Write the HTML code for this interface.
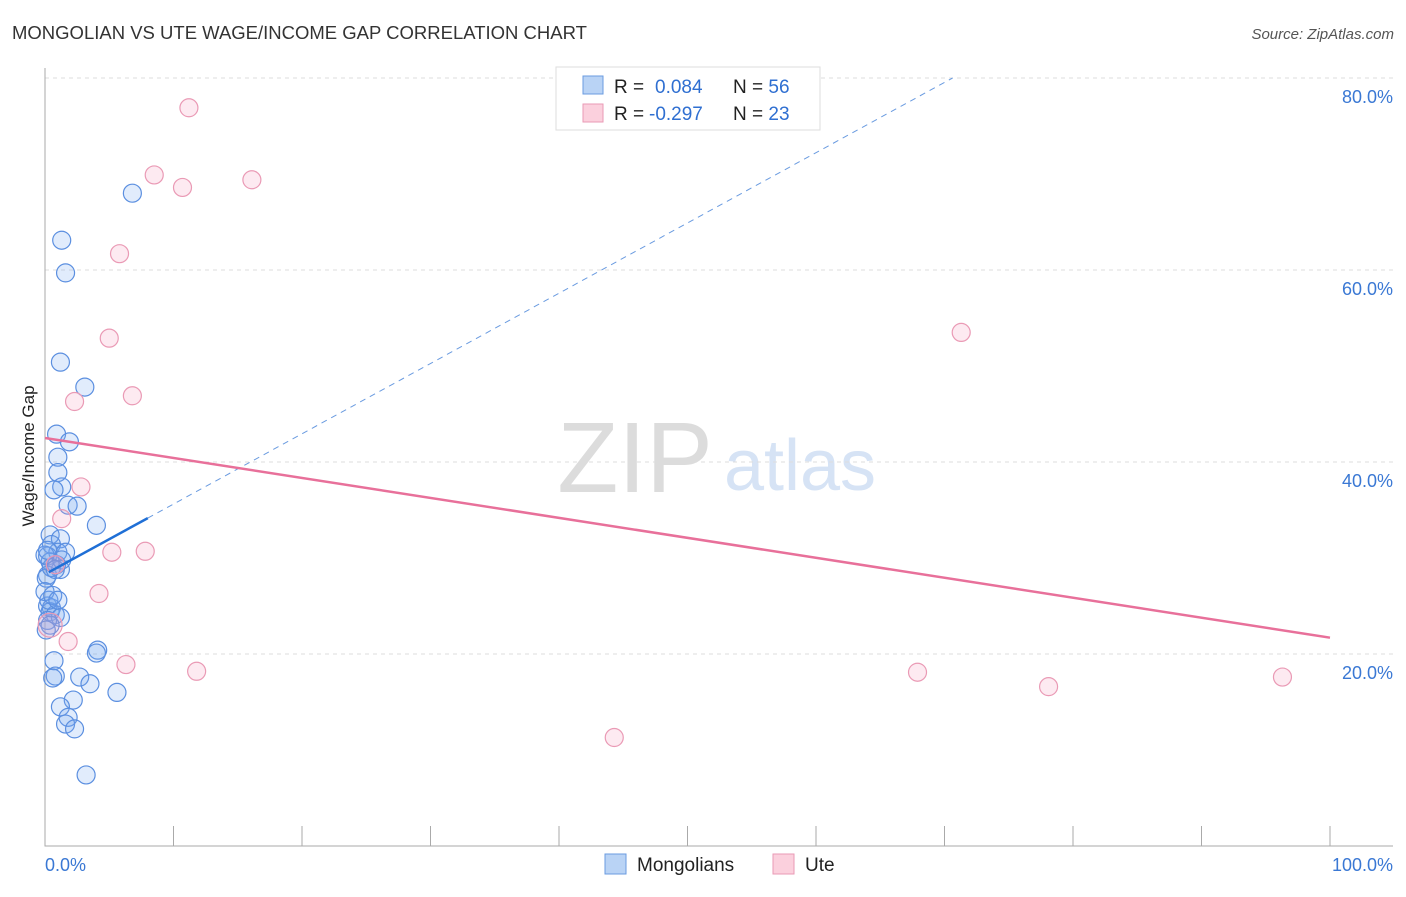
<!DOCTYPE html>
<html><head><meta charset="utf-8"><style>
body{margin:0;background:#fff;font-family:"Liberation Sans",sans-serif}
svg text{font-family:"Liberation Sans",sans-serif}
</style></head><body>
<svg width="1406" height="892" id="c">
<text x="12" y="39" font-size="18.5" fill="#333">MONGOLIAN VS UTE WAGE/INCOME GAP CORRELATION CHART</text>
<text x="1394" y="39" font-size="15" fill="#555" font-style="italic" text-anchor="end">Source: ZipAtlas.com</text>
<text x="34" y="456" font-size="17" fill="#222" transform="rotate(-90 34 456)" text-anchor="middle">Wage/Income Gap</text>
<text x="635" y="492" font-size="100" fill="#dcdcdc" font-family="Liberation Serif" text-anchor="middle">ZIP</text>
<text x="800" y="490" font-size="72" fill="#d6e3f5" text-anchor="middle">atlas</text>
<g id="grid"></g><g id="pts"></g><g id="lines"></g>
<g>
<rect x="556" y="67" width="264" height="63" fill="#fff" stroke="#ddd"/>
<rect x="583" y="76" width="20" height="18" fill="#b9d3f5" stroke="#6a9be0"/>
<rect x="583" y="104" width="20" height="18" fill="#fbd0dd" stroke="#ea9ab5"/>
<text x="614" y="93" font-size="19" fill="#222">R = <tspan fill="#2f6fd1" x="655">0.084</tspan><tspan x="733" fill="#222">N = </tspan><tspan fill="#2f6fd1">56</tspan></text>
<text x="614" y="120" font-size="19" fill="#222">R = <tspan fill="#2f6fd1" x="649">-0.297</tspan><tspan x="733" fill="#222">N = </tspan><tspan fill="#2f6fd1">23</tspan></text>
</g>
<rect x="605" y="854" width="21" height="20" fill="#b9d3f5" stroke="#6a9be0"/>
<text x="637" y="871" font-size="19" fill="#222">Mongolians</text>
<rect x="773" y="854" width="21" height="20" fill="#fbd0dd" stroke="#ea9ab5"/>
<text x="805" y="871" font-size="19" fill="#222">Ute</text>
<text x="45" y="871" font-size="18" fill="#3a78d4">0.0%</text>
<text x="1393" y="871" font-size="18" fill="#3a78d4" text-anchor="end">100.0%</text>
</svg>
<script>
const yTicks=[20,40,60,80];
const yTickLabels=["20.0%","40.0%","60.0%","80.0%"];
const mongX=[6.8,1.3,1.6,1.2,3.1,0.9,1.9,1.0,1.0,1.3,0.7,1.8,2.5,4.0,0.4,1.2,0.5,1.0,1.6,0.2,0.4,0.9,1.2,0.2,0.1,0.5,0.2,0.5,0.4,0.8,1.2,0.2,0.4,4.1,4.0,0.7,0.8,0.6,2.7,3.5,5.6,2.2,1.2,1.8,1.6,2.3,3.2,0.3,0.0,0.6,0.0,1.3,1.0,0.1,0.8,0.2];
const mongY=[68.0,63.1,59.7,50.4,47.8,42.9,42.1,40.5,38.9,37.4,37.1,35.5,35.4,33.4,32.4,32.0,31.4,30.6,30.6,30.2,29.6,29.3,28.8,28.2,27.9,29.0,25.0,24.8,24.4,24.1,23.8,23.5,23.0,20.4,20.1,19.3,17.7,17.5,17.6,16.9,16.0,15.2,14.5,13.4,12.7,12.2,7.4,25.6,26.5,26.1,30.3,29.8,25.6,22.5,28.8,30.8];
const uteX=[11.2,8.5,10.7,16.1,5.8,5.0,2.3,6.8,2.8,1.3,5.2,7.8,4.2,1.8,6.3,11.8,67.9,78.1,96.3,44.3,71.3,0.4,0.8];
const uteY=[76.9,69.9,68.6,69.4,61.7,52.9,46.3,46.9,37.4,34.1,30.6,30.7,26.3,21.3,18.9,18.2,18.1,16.6,17.6,11.3,53.5,23.0,29.3];
const mongFit=[28.3,0.732]; // intercept, slope
const uteFit=[42.5,-0.208];
const NS="http://www.w3.org/2000/svg";
const X=v=>45+v*12.85, Y=v=>846-v*9.6;
function mk(tag,attrs,parent){const e=document.createElementNS(NS,tag);for(const k in attrs)e.setAttribute(k,attrs[k]);parent.appendChild(e);return e;}
const grid=document.getElementById('grid'),pts=document.getElementById('pts'),lines=document.getElementById('lines');
yTicks.forEach((t,i)=>{
 const l=mk('line',{x1:45,x2:1393,y1:Y(t),y2:Y(t),stroke:'#ddd','stroke-dasharray':'4 4'},grid);
 
 
 const tx=mk('text',{x:1393,y:Y(t)+25,'font-size':18,fill:'#3a78d4','text-anchor':'end'},grid);
 tx.textContent=yTickLabels[i];
 
 
});
const ax=mk('path',{d:'M45 68V846H1393',stroke:'#aaa',fill:'none'},grid);


for(let i=1;i<=10;i++){
 const tk=mk('line',{x1:X(i*10),x2:X(i*10),y1:826,y2:846,stroke:'#aaa'},grid);
 
 
}
mongX.forEach((x,i)=>{
 const c=mk('circle',{cx:X(x),cy:Y(mongY[i]),r:9,fill:'rgba(120,170,240,0.22)',stroke:'#5b8fe0','stroke-width':1.2},pts);
 
 
});
uteX.forEach((x,i)=>{
 const c=mk('circle',{cx:X(x),cy:Y(uteY[i]),r:i==21?12:9,fill:'rgba(245,160,190,0.22)',stroke:'#ea9ab5','stroke-width':1.2},pts);
 
 
});
const f=(p,x)=>p[0]+p[1]*x;
const xEnd=(80-mongFit[0])/mongFit[1];
const d1=mk('line',{x1:X(8),y1:Y(f(mongFit,8)),x2:X(xEnd),y2:Y(f(mongFit,xEnd)),stroke:'#6a9be0','stroke-dasharray':'6 5','stroke-width':1},lines);


const l1=mk('line',{x1:X(0.3),y1:Y(f(mongFit,0.3)),x2:X(8),y2:Y(f(mongFit,8)),stroke:'#1f6fd6','stroke-width':2.5},lines);


const l2=mk('line',{x1:X(0),y1:Y(f(uteFit,0)),x2:X(100),y2:Y(f(uteFit,100)),stroke:'#e8709a','stroke-width':2.5},lines);


</script>
</body></html>
